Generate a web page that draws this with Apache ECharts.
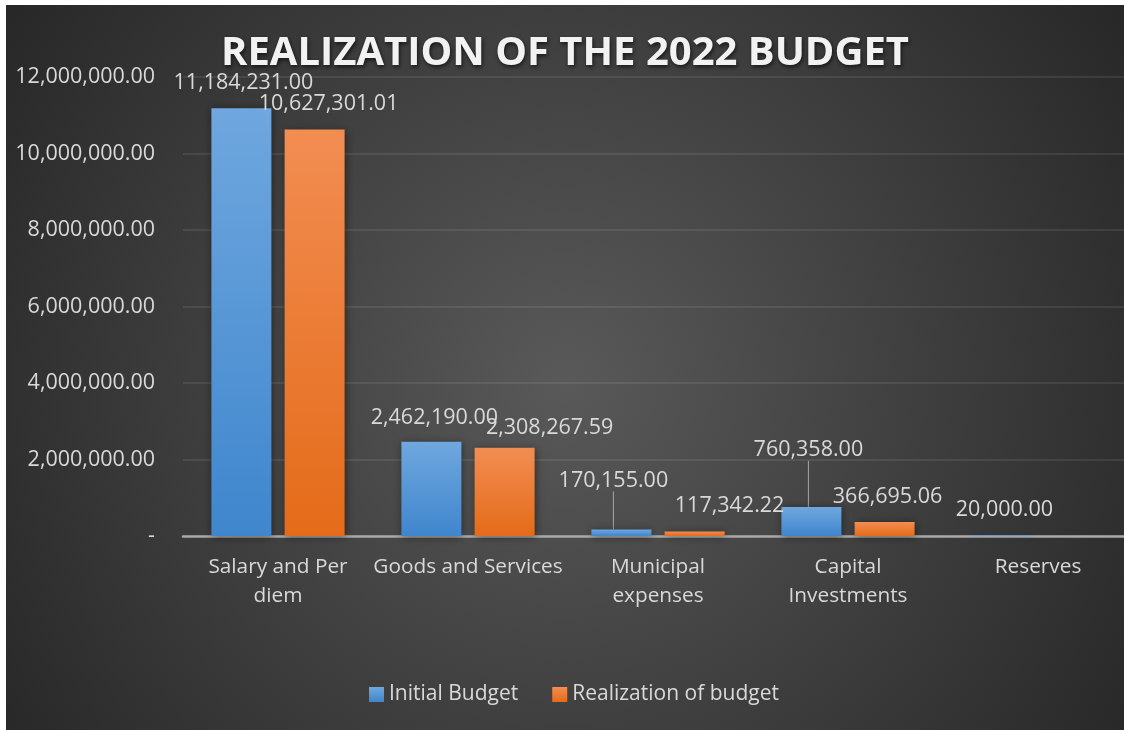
<!DOCTYPE html>
<html>
<head>
<meta charset="utf-8">
<title>Realization of the 2022 Budget</title>
<script src="https://cdn.jsdelivr.net/npm/echarts@6/dist/echarts.min.js"></script>
<style>
  html, body { margin: 0; padding: 0; background: #ffffff; }
  #chart { position: absolute; left: 6px; top: 5px; width: 1118px; height: 725px; }
</style>
</head>
<body>
<div id="chart"></div>
<script>
// Budget categories and amounts
const categories = ['Salary and Per diem', 'Goods and Services', 'Municipal expenses', 'Capital Investments', 'Reserves'];
const categoryLabels = ['Salary and Per\ndiem', 'Goods and Services', 'Municipal\nexpenses', 'Capital\nInvestments', 'Reserves'];
const initialBudget = [11184231.00, 2462190.00, 170155.00, 760358.00, 20000.00];
const realizedBudget = [10627301.01, 2308267.59, 117342.22, 366695.06, null];
const seriesNames = ['Initial Budget', 'Realization of budget'];

// Value-axis ticks
const yMin = 0;
const yMax = 12000000;
const yStep = 2000000;

// Label placement tweaks (pixels) so neighbouring value labels stay readable
const initialLabelShift = [[2, -9], [3, -8], [-8, -33], [-3, -41], [3, -9]];
const realizedLabelShift = [[14, -10], [45, -4], [35, -10], [3, -9], [0, 0]];
const initialLeader = [false, false, true, true, false];

const TEXT = '#d9d9d9';
const FONT = '"Open Sans", "Noto Sans", sans-serif';

function money(v) {
  return Number(v).toLocaleString('en-US', { minimumFractionDigits: 2, maximumFractionDigits: 2 });
}

const blueFill = new echarts.graphic.LinearGradient(0, 0, 0, 1, [
  { offset: 0, color: '#6fa7de' },
  { offset: 1, color: '#3f86cd' }
]);
const orangeFill = new echarts.graphic.LinearGradient(0, 0, 0, 1, [
  { offset: 0, color: '#f28d52' },
  { offset: 1, color: '#e46b19' }
]);

const chart = echarts.init(document.getElementById('chart'), null, { renderer: 'canvas' });

const valueLabel = {
  show: true,
  position: 'top',
  distance: 5,
  color: TEXT,
  fontFamily: FONT,
  fontSize: 21.5,
  formatter: p => money(p.value)
};

chart.setOption({
  backgroundColor: {
    type: 'radial', x: 0.5, y: 0.52, r: 0.95,
    colorStops: [
      { offset: 0, color: '#595959' },
      { offset: 1, color: '#262626' }
    ]
  },
  textStyle: { fontFamily: FONT },
  title: {
    text: 'REALIZATION OF THE 2022 BUDGET',
    left: 'center',
    top: 24,
    textStyle: {
      color: '#f2f2f2',
      fontFamily: FONT,
      fontWeight: 'bold',
      fontSize: 40,
      textShadowColor: 'rgba(0,0,0,0.65)',
      textShadowBlur: 4,
      textShadowOffsetX: 1,
      textShadowOffsetY: 2
    }
  },
  legend: {
    data: seriesNames,
    left: 358,
    top: 674,
    itemWidth: 15,
    itemHeight: 15,
    itemGap: 34,
    icon: 'rect',
    textStyle: { color: TEXT, fontFamily: FONT, fontSize: 21, padding: [0, 0, 0, 0] }
  },
  grid: { left: 177, top: 72, width: 950, height: 459, outerBoundsMode: 'none', containLabel: false },
  xAxis: {
    type: 'category',
    data: categories,
    axisLine: { lineStyle: { color: '#a9a9a9', width: 2.5 } },
    axisTick: { show: false },
    axisLabel: {
      interval: 0,
      margin: 17,
      color: TEXT,
      fontFamily: FONT,
      fontSize: 20.8,
      lineHeight: 29,
      formatter: (v, i) => categoryLabels[i]
    }
  },
  yAxis: {
    type: 'value',
    min: yMin,
    max: yMax,
    interval: yStep,
    axisLine: { show: false },
    axisTick: { show: false },
    splitLine: { lineStyle: { color: 'rgba(255,255,255,0.11)', width: 1.5 } },
    axisLabel: {
      margin: 28,
      color: TEXT,
      fontFamily: FONT,
      fontSize: 21.5,
      formatter: v => (v === 0 ? '-' : money(v))
    }
  },
  series: [
    {
      name: seriesNames[0],
      type: 'bar',
      barWidth: 60,
      barGap: '22%',
      itemStyle: {
        color: blueFill,
        shadowColor: 'rgba(0,0,0,0.45)',
        shadowBlur: 8,
        shadowOffsetX: 1,
        shadowOffsetY: 1
      },
      label: valueLabel,
      labelLine: { show: false, lineStyle: { color: '#a6a6a6', width: 1 } },
      labelLayout: p => ({ dx: initialLabelShift[p.dataIndex][0], dy: initialLabelShift[p.dataIndex][1] }),
      data: initialBudget.map((v, i) => ({
        value: v,
        labelLine: { show: initialLeader[i], lineStyle: { color: '#a6a6a6', width: 1 } }
      }))
    },
    {
      name: seriesNames[1],
      type: 'bar',
      barWidth: 60,
      barGap: '22%',
      itemStyle: {
        color: orangeFill,
        shadowColor: 'rgba(0,0,0,0.45)',
        shadowBlur: 8,
        shadowOffsetX: 1,
        shadowOffsetY: 1
      },
      label: valueLabel,
      labelLayout: p => ({ dx: realizedLabelShift[p.dataIndex][0], dy: realizedLabelShift[p.dataIndex][1] }),
      data: realizedBudget
    }
  ]
});
</script>
</body>
</html>
